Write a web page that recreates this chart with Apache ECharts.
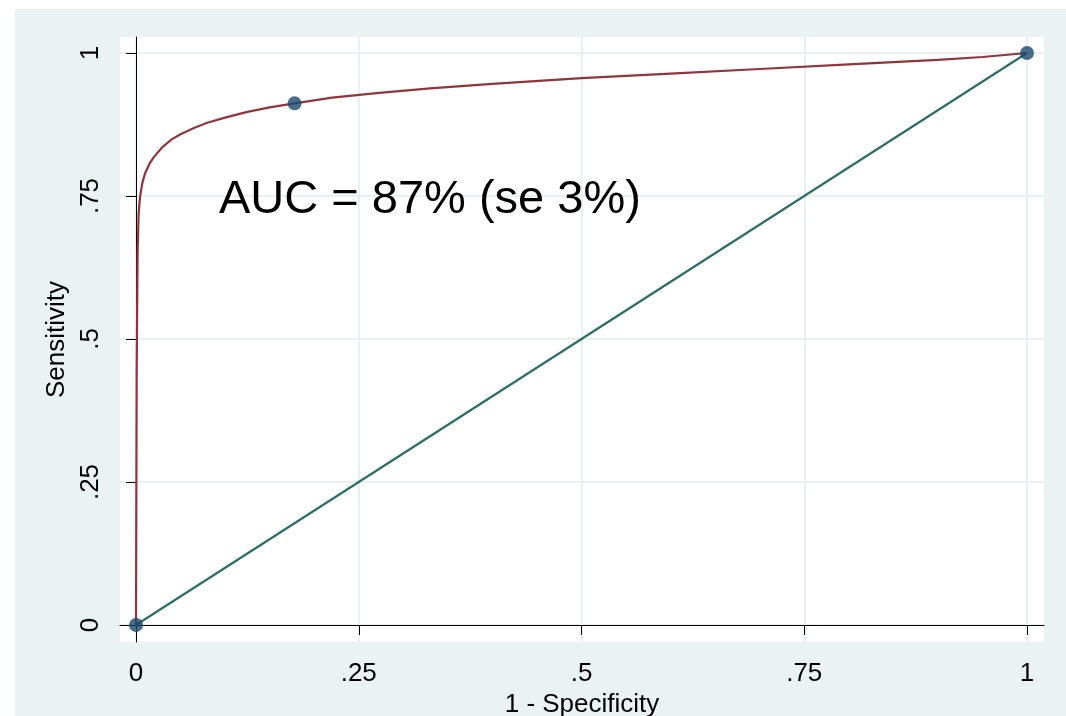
<!DOCTYPE html>
<html>
<head>
<meta charset="utf-8">
<script src="https://cdn.jsdelivr.net/npm/echarts@6/dist/echarts.min.js"></script>
<style>
html,body{margin:0;padding:0;background:#fff;}
#bg{position:absolute;left:15px;top:9px;width:1051px;height:707px;background:#EAF2F3;}
#chart{position:absolute;left:0;top:0;width:1066px;height:716px;}
</style>
</head>
<body>
<div id="bg"></div>
<div id="chart"></div>
<script>
// Fitted ROC curve (1 - Specificity, Sensitivity)
var rocX = [0, 0.0008, 0.0018, 0.003, 0.0045, 0.007, 0.01, 0.015, 0.02, 0.03, 0.04, 0.05, 0.065, 0.08, 0.1, 0.125, 0.15, 0.178, 0.22, 0.27, 0.33, 0.4, 0.5, 0.6, 0.7, 0.8, 0.9, 0.95, 1];
var rocY = [0, 0.45, 0.65, 0.72, 0.748, 0.772, 0.789, 0.806, 0.818, 0.836, 0.849, 0.858, 0.869, 0.878, 0.887, 0.897, 0.905, 0.912, 0.922, 0.930, 0.938, 0.946, 0.956, 0.964, 0.972, 0.980, 0.988, 0.993, 1];
// Empirical points
var ptX = [0, 0.178, 1];
var ptY = [0, 0.912, 1];
// Reference diagonal
var diagX = [0, 1];
var diagY = [0, 1];
var tickValues = [0, 0.25, 0.5, 0.75, 1];
var tickLabels = ['0', '.25', '.5', '.75', '1'];
var xName = '1 - Specificity';
var yName = 'Sensitivity';
var aucText = 'AUC = 87% (se 3%)';

function zip(a, b) { return a.map(function (v, i) { return [v, b[i]]; }); }
function fmt(v) {
  for (var i = 0; i < tickValues.length; i++) if (Math.abs(tickValues[i] - v) < 1e-9) return tickLabels[i];
  return '';
}
var font = 'Arial, "Liberation Sans", Helvetica, sans-serif';
var chart = echarts.init(document.getElementById('chart'), null, {renderer: 'canvas'});
var axisCommon = {
  type: 'value',
  axisLine: {show: true, lineStyle: {color: '#000', width: 1}},
  axisTick: {show: true, length: 10, customValues: tickValues, lineStyle: {color: '#000', width: 1}},
  splitLine: {show: true, lineStyle: {color: '#E8F0F2', width: 2}},
  nameLocation: 'middle',
  nameTextStyle: {color: '#000', fontSize: 26, fontFamily: font}
};
chart.setOption({
  animation: false,
  backgroundColor: 'transparent',
  grid: {left: 120, right: 22, top: 37, bottom: 74, show: true, backgroundColor: '#fff', borderWidth: 0, containLabel: false, outerBoundsMode: 'none'},
  xAxis: Object.assign({}, axisCommon, {
    min: -0.01796, max: 1.01908,
    name: xName, nameGap: 38,
    axisLabel: {customValues: tickValues, formatter: fmt, color: '#000', fontSize: 26, fontFamily: font, margin: 19}
  }),
  yAxis: Object.assign({}, axisCommon, {
    min: -0.02972, max: 1.02797,
    name: yName, nameGap: 44,
    axisLabel: {customValues: tickValues, formatter: fmt, rotate: 90, color: '#000', fontSize: 26, fontFamily: font, margin: 16}
  }),
  graphic: [{
    type: 'text', x: 219, y: 200, z: 100,
    style: {text: aucText, fontSize: 47, fontFamily: font, fill: '#000', verticalAlign: 'middle', align: 'left'}
  }],
  series: [
    {type: 'line', data: zip(diagX, diagY), showSymbol: false, symbol: 'none', lineStyle: {color: '#2E6E66', width: 2.2}, z: 2},
    {type: 'line', data: zip(rocX, rocY), showSymbol: false, symbol: 'none', smooth: false, lineStyle: {color: '#90353B', width: 2.2}, z: 3},
    {type: 'scatter', data: zip(ptX, ptY), symbol: 'circle', symbolSize: 14, itemStyle: {color: '#1A476F'}, z: 4}
  ]
});
</script>
</body>
</html>
